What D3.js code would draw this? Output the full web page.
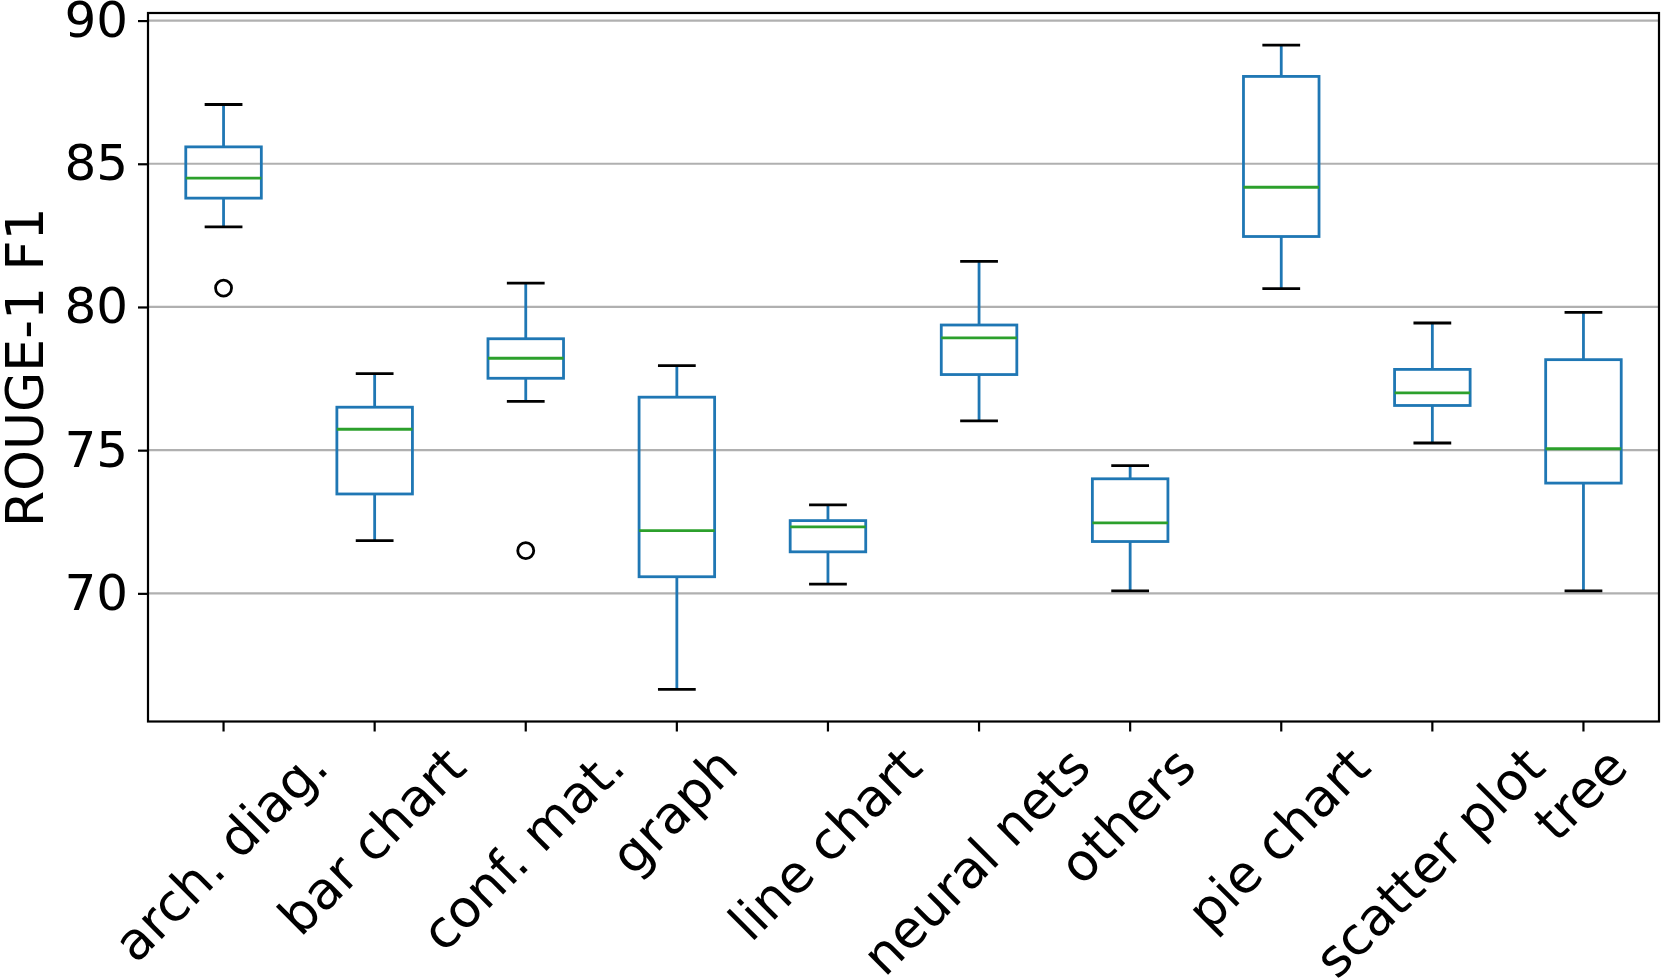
<!DOCTYPE html>
<html>
<head>
<meta charset="utf-8">
<script src="https://cdn.jsdelivr.net/npm/d3@7"></script>
<style>
  html, body { margin: 0; padding: 0; background: #fff; }
  svg { display: block; font-family: 'DejaVu Sans', sans-serif; }
</style>
</head>
<body>
<svg id="chart"></svg>
<script>
// box statistics per category
var categories  = ['arch. diag.', 'bar chart', 'conf. mat.', 'graph', 'line chart', 'neural nets', 'others', 'pie chart', 'scatter plot', 'tree'];
var whiskerLow  = [82.80, 71.84, 76.70, 66.65, 70.32, 76.02, 70.09, 80.64, 75.25, 70.09];
var q1Values    = [83.80, 73.47, 77.51, 70.58, 71.45, 77.64, 71.81, 82.46, 76.56, 73.85];
var medians     = [84.50, 75.73, 78.21, 72.19, 72.32, 78.92, 72.46, 84.18, 77.00, 75.05];
var q3Values    = [85.59, 76.50, 78.89, 76.85, 72.54, 79.37, 74.00, 88.05, 77.82, 78.16];
var whiskerHigh = [87.07, 77.67, 80.83, 77.95, 73.09, 81.59, 74.46, 89.14, 79.44, 79.81];
var outlierCats = ['arch. diag.', 'conf. mat.'];
var outlierVals = [80.66, 71.49];
var yTicks = [70, 75, 80, 85, 90];

(function () {

  var width = 1661, height = 979;
  var margin = { left: 148, right: 2, top: 13, bottom: 257.5 };
  var fontSize = 50, labelSize = 52;
  var blue = '#1f77b4', green = '#2ca02c';

  var svg = d3.select('#chart')
    .attr('width', width)
    .attr('height', height);

  var boxes = categories.map(function (c, i) {
    return { cat: c, lo: whiskerLow[i], q1: q1Values[i], med: medians[i], q3: q3Values[i], hi: whiskerHigh[i] };
  });
  var fliers = outlierCats.map(function (c, i) { return { cat: c, value: outlierVals[i] }; });

  // matplotlib-style 5% data margin
  var allVals = whiskerLow.concat(whiskerHigh, outlierVals);
  var lo = d3.min(allVals), hi = d3.max(allVals), pad = (hi - lo) * 0.05;

  var x = d3.scaleBand()
    .domain(categories)
    .range([margin.left, width - margin.right])
    .padding(0);

  var y = d3.scaleLinear()
    .domain([lo - pad, hi + pad])
    .range([height - margin.bottom, margin.top]);

  var bw = x.bandwidth() * 0.5, capW = x.bandwidth() * 0.25;
  function cx(d) { return x(d.cat) + x.bandwidth() / 2; }

  // grid
  svg.append('g').selectAll('line')
    .data(yTicks)
    .join('line')
    .attr('x1', margin.left).attr('x2', width - margin.right)
    .attr('y1', function (d) { return y(d); })
    .attr('y2', function (d) { return y(d); })
    .attr('stroke', '#b0b0b0')
    .attr('stroke-width', 2.2);

  var g = svg.append('g').selectAll('g')
    .data(boxes)
    .join('g');

  // whiskers
  g.append('line')
    .attr('x1', cx).attr('x2', cx)
    .attr('y1', function (d) { return y(d.q3); })
    .attr('y2', function (d) { return y(d.hi); })
    .attr('stroke', blue).attr('stroke-width', 2.8);
  g.append('line')
    .attr('x1', cx).attr('x2', cx)
    .attr('y1', function (d) { return y(d.q1); })
    .attr('y2', function (d) { return y(d.lo); })
    .attr('stroke', blue).attr('stroke-width', 2.8);

  // caps
  ['lo', 'hi'].forEach(function (k) {
    g.append('line')
      .attr('x1', function (d) { return cx(d) - capW / 2; })
      .attr('x2', function (d) { return cx(d) + capW / 2; })
      .attr('y1', function (d) { return y(d[k]); })
      .attr('y2', function (d) { return y(d[k]); })
      .attr('stroke', '#000').attr('stroke-width', 2.8);
  });

  // boxes
  g.append('rect')
    .attr('x', function (d) { return cx(d) - bw / 2; })
    .attr('y', function (d) { return y(d.q3); })
    .attr('width', bw)
    .attr('height', function (d) { return y(d.q1) - y(d.q3); })
    .attr('fill', 'none')
    .attr('stroke', blue).attr('stroke-width', 2.8);

  // medians
  g.append('line')
    .attr('x1', function (d) { return cx(d) - bw / 2; })
    .attr('x2', function (d) { return cx(d) + bw / 2; })
    .attr('y1', function (d) { return y(d.med); })
    .attr('y2', function (d) { return y(d.med); })
    .attr('stroke', green).attr('stroke-width', 2.8);

  // outliers
  svg.append('g').selectAll('circle')
    .data(fliers)
    .join('circle')
    .attr('cx', cx)
    .attr('cy', function (d) { return y(d.value); })
    .attr('r', 8)
    .attr('fill', 'none')
    .attr('stroke', '#000').attr('stroke-width', 2.8);

  // axes
  var yAxis = svg.append('g')
    .attr('transform', 'translate(' + margin.left + ',0)')
    .call(d3.axisLeft(y).tickValues(yTicks).tickSize(10).tickPadding(10));

  var xAxis = svg.append('g')
    .attr('transform', 'translate(0,' + (height - margin.bottom) + ')')
    .call(d3.axisBottom(x).tickSize(10).tickPadding(10));

  [yAxis, xAxis].forEach(function (a) {
    a.select('.domain').remove();
    a.selectAll('.tick line').attr('stroke', '#000').attr('stroke-width', 2.2);
    a.selectAll('text')
      .attr('fill', '#000')
      .style('font-size', fontSize + 'px')
      .style('font-family', "'DejaVu Sans', sans-serif");
  });

  // rotated labels, bbox centred under the tick like matplotlib rot=45
  xAxis.selectAll('text')
    .style('font-size', labelSize + 'px')
    .each(function () {
      var w = this.getComputedTextLength();
      var half = (w + labelSize) * Math.SQRT1_2 / 2;
      d3.select(this)
        .attr('y', 0)
        .attr('dy', '0.27em')
        .attr('text-anchor', 'middle')
        .attr('transform', 'translate(0,' + (20 + half) + ') rotate(-45)');
    });

  // frame
  svg.append('rect')
    .attr('x', margin.left).attr('y', margin.top)
    .attr('width', width - margin.right - margin.left)
    .attr('height', height - margin.bottom - margin.top)
    .attr('fill', 'none')
    .attr('stroke', '#000').attr('stroke-width', 2.2);

  svg.append('text')
    .attr('transform', 'translate(43,' + ((margin.top + height - margin.bottom) / 2) + ') rotate(-90)')
    .attr('text-anchor', 'middle')
    .style('font-size', labelSize + 'px')
    .text('ROUGE-1 F1');

})();
</script>
</body>
</html>
